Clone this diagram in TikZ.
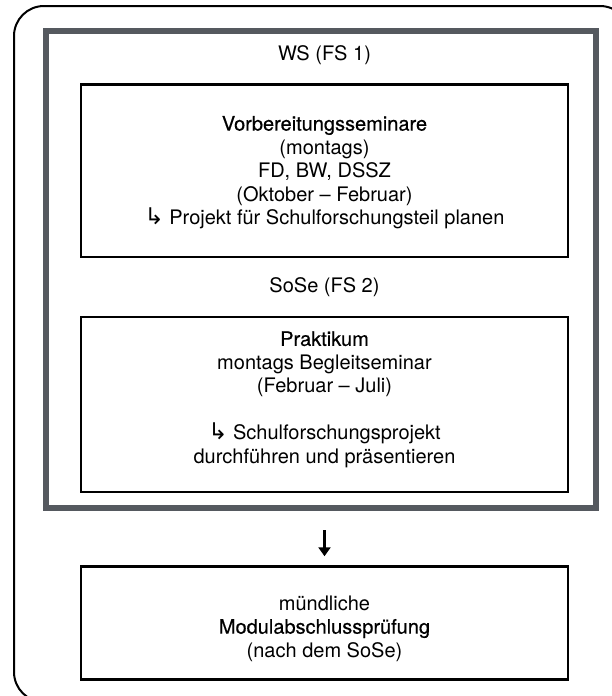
\documentclass[tikz,border=0pt]{standalone}
\usepackage{fontspec}
\setmainfont{TeX Gyre Heros}
\newfontfamily\medfont[FakeBold=0.5]{TeX Gyre Heros}
\newfontfamily\arrowfont{DejaVu Sans}
\usetikzlibrary{arrows.meta}
\definecolor{framegray}{HTML}{55595F}
\newcommand{\hookarrow}{{\arrowfont\fontsize{23}{23.5}\selectfont ↳}}

\begin{document}
\begin{tikzpicture}[x=1pt,y=-1pt,
    box/.style={draw=black, line width=2.5pt, minimum width=487pt, inner sep=0pt},
    txt/.style={align=center, inner sep=0pt, font=\fontsize{20}{23.5}\selectfont},
    term/.style={draw=framegray, line width=6pt, minimum width=549.5pt, inner sep=0pt}]
    \useasboundingbox (0,0) rectangle (611,696);
    % outer frame, cut off at right and bottom
    \draw [black, line width=2pt, rounded corners=30pt] (14,6) rectangle (630,702);
    % study year
    \node [term, minimum height=477.5pt] (year) at (320.75,269.25) {};
    \node [txt] (ws) at (324.5,55) {WS (FS 1)};
    \node [box, minimum height=172.5pt] (prep) at (324.5,170.75) {};
    \node [txt] (prep text) at (324.5,172.5)
      {{\medfont Vorbereitungsseminare}\\(montags)\\FD, BW, DSSZ\\(Oktober – Februar)\\
       \hookarrow\ Projekt für Schulforschungsteil planen};
    \node [txt] (sose) at (324.5,287) {SoSe (FS 2)};
    \node [box, minimum height=175pt] (prak) at (324.5,404.5) {};
    \node [txt] (prak text) at (324.5,399.5)
      {{\medfont Praktikum}\\montags Begleitseminar\\(Februar – Juli)\\[23.5pt]
       \hookarrow\ Schulforschungsprojekt\\durchführen und präsentieren};
    % exam
    \node [box, minimum height=113pt] (exam) at (324.5,623) {};
    \node [txt] (exam text) at (324.5,628.5)
      {mündliche\\{\medfont Modulabschlussprüfung}\\(nach dem SoSe)};
    \draw [line width=3pt, -{Triangle[width=12pt,length=9pt]}, shorten <=19pt, shorten >=9pt]
      (exam.north |- year.south) -- (exam.north);
\end{tikzpicture}
\end{document}
